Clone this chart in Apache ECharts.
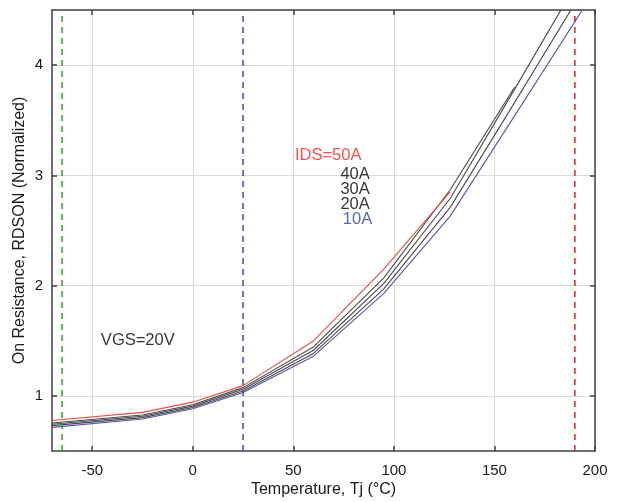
<!DOCTYPE html>
<html>
<head>
<meta charset="utf-8">
<script src="https://cdn.jsdelivr.net/npm/echarts@6/dist/echarts.min.js"></script>
<style>
html,body{margin:0;padding:0;background:#fff;}
#c{width:621px;height:502px;}
</style>
</head>
<body>
<div id="c"></div>
<script>
// ---- data ----
const temps = [-70, -25, 0, 25, 60, 95, 128, 160, 200];
const ids50 = [0.777, 0.85, 0.943, 1.093, 1.498, 2.15, 2.85];
const ids40 = [0.754, 0.827, 0.919, 1.075, 1.444, 2.07, 2.87, 3.80];
const ids30 = [0.742, 0.815, 0.907, 1.060, 1.414, 2.02, 2.79, 3.78, 5.03];
const ids20 = [0.730, 0.803, 0.895, 1.045, 1.385, 1.97, 2.71, 3.66, 4.86];
const ids10 = [0.714, 0.790, 0.883, 1.030, 1.360, 1.93, 2.63, 3.54, 4.68];
const xTicks = [-50, 0, 50, 100, 150, 200];
const yTicks = [1, 2, 3, 4];
const vLineX = [-65, 25, 190];
const vLineColors = ['#22a822', '#3a4bb0', '#e02020'];
const xRange = [-70, 200];
const yRange = [0.5, 4.5];
const labelTexts = ['IDS=50A', '40A', '30A', '20A', '10A', 'VGS=20V'];
const labelX = [50.8, 73.4, 73.4, 73.4, 74.6, -45.7];
const labelY = [3.18, 3.01, 2.875, 2.74, 2.60, 1.50];
const labelColors = ['#ff2020', '#000000', '#000000', '#000000', '#3040a8', '#000000'];

const FONT = 'Liberation Sans';
const pair = (ys) => ys.map((v, i) => [temps[i], v]);

const curveSeries = [
  {name: '10A', data: pair(ids10), color: '#5555b5'},
  {name: '20A', data: pair(ids20), color: '#4a4a4a'},
  {name: '30A', data: pair(ids30), color: '#4a4a4a'},
  {name: '40A', data: pair(ids40), color: '#4a4a4a'},
  {name: '50A', data: pair(ids50), color: '#f04a4a'}
].map(s => ({
  type: 'line', name: s.name, data: s.data, showSymbol: false, symbol: 'none',
  lineStyle: {color: s.color, width: 1.1}, clip: true, z: 3, silent: true
}));

const vSeries = vLineX.map((x, i) => ({
  type: 'line', data: [[x, yRange[0]], [x, yRange[1]]], symbol: 'none', silent: true,
  lineStyle: {color: vLineColors[i], width: 1.5, type: [6, 5]}, z: 4
}));

const textSeries = {
  type: 'scatter', symbolSize: 0, silent: true, z: 5,
  data: labelTexts.map((t, i) => ({
    value: [labelX[i], labelY[i]],
    label: {show: true, formatter: t, position: 'right', distance: 0,
      color: labelColors[i], fontSize: 16.5, fontFamily: FONT}
  }))
};

const axisLineStyle = {color: '#404040', width: 1.5};
const chart = echarts.init(document.getElementById('c'), null, {renderer: 'canvas'});
chart.setOption({
  animation: false,
  backgroundColor: '#fff',
  grid: {left: 52, right: 26, top: 10, bottom: 51, containLabel: false, outerBoundsMode: 'none'},
  xAxis: [{
    type: 'value', min: xRange[0], max: xRange[1], position: 'bottom',
    name: 'Temperature, Tj (°C)', nameLocation: 'middle', nameGap: 31, nameMoveOverlap: false,
    nameTextStyle: {fontSize: 16, color: '#1a1a1a', fontFamily: FONT},
    axisLine: {show: true, onZero: false, lineStyle: axisLineStyle},
    axisTick: {show: true, inside: true, length: 5, customValues: xTicks, lineStyle: {color: '#404040', width: 1.5}},
    axisLabel: {customValues: xTicks, fontSize: 15, color: '#1a1a1a', margin: 12, fontFamily: FONT},
    splitLine: {show: true, lineStyle: {color: '#dadada', width: 1}}
  }, {
    type: 'value', min: xRange[0], max: xRange[1], position: 'top',
    axisLine: {show: true, onZero: false, lineStyle: axisLineStyle},
    axisTick: {show: true, inside: true, length: 5, customValues: xTicks, lineStyle: {color: '#404040', width: 1.5}},
    axisLabel: {show: false, customValues: xTicks},
    splitLine: {show: false}
  }],
  yAxis: [{
    type: 'value', min: yRange[0], max: yRange[1], position: 'left',
    name: 'On Resistance, RDSON (Normalized)', nameLocation: 'middle', nameGap: 24, nameMoveOverlap: false,
    nameTextStyle: {fontSize: 16, color: '#1a1a1a', fontFamily: FONT},
    axisLine: {show: true, onZero: false, lineStyle: axisLineStyle},
    axisTick: {show: true, inside: true, length: 5, customValues: yTicks, lineStyle: {color: '#404040', width: 1.5}},
    axisLabel: {customValues: yTicks, fontSize: 15, color: '#1a1a1a', margin: 9, fontFamily: FONT},
    splitLine: {show: true, lineStyle: {color: '#dadada', width: 1}}
  }, {
    type: 'value', min: yRange[0], max: yRange[1], position: 'right',
    axisLine: {show: true, onZero: false, lineStyle: axisLineStyle},
    axisTick: {show: true, inside: true, length: 5, customValues: yTicks, lineStyle: {color: '#404040', width: 1.5}},
    axisLabel: {show: false, customValues: yTicks},
    splitLine: {show: false}
  }],
  series: [...curveSeries, ...vSeries, textSeries]
});
</script>
</body>
</html>
